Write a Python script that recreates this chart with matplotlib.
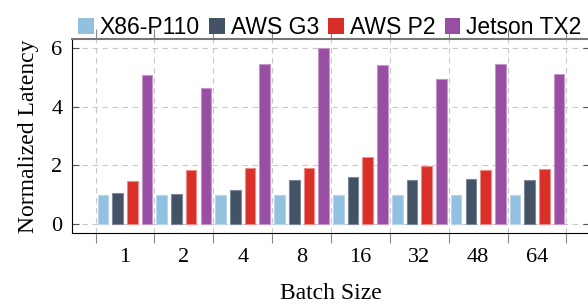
import numpy as np
import matplotlib.pyplot as plt
from matplotlib.ticker import FixedLocator

batch_sizes = ['1', '2', '4', '8', '16', '32', '48', '64']
platforms = ['X86-P110', 'AWS G3', 'AWS P2', 'Jetson TX2']
x86_p110 = [1.0, 1.0, 1.0, 1.0, 1.0, 1.0, 1.0, 1.0]
aws_g3 = [1.05, 1.03, 1.16, 1.52, 1.59, 1.52, 1.53, 1.52]
aws_p2 = [1.47, 1.85, 1.91, 1.92, 2.29, 1.99, 1.86, 1.89]
jetson_tx2 = [5.09, 4.65, 5.44, 6.01, 5.41, 4.95, 5.45, 5.11]

colors = ['#92c0df', '#445265', '#d83028', '#984ea3']
edges = ['#b9d7ec', '#7d8898', '#ee8a84', '#c595cc']
series = [x86_p110, aws_g3, aws_p2, jetson_tx2]

fig = plt.figure(figsize=(5.88, 3.06), dpi=100)
ax = fig.add_axes([72 / 588, 1 - 233 / 306, 518 / 588, 194 / 306])

x = np.arange(len(batch_sizes))
step = 0.25
width = 0.18
for i, (vals, name) in enumerate(zip(series, platforms)):
    ax.bar(x + (i - 1.5) * step, vals, width, color=colors[i],
           edgecolor=edges[i], linewidth=0.8, label=name, zorder=3)

ax.set_xlim(-0.9, 7.9)
ax.set_ylim(-0.3, 6.3)
ax.set_xticks(x)
ax.set_xticklabels(batch_sizes, family='Liberation Serif', fontsize=16)
ax.xaxis.set_minor_locator(FixedLocator(np.arange(-0.5, 8, 1.0)))
ax.tick_params(axis='x', which='major', length=0, pad=11)
ax.tick_params(axis='x', which='minor', direction='out', length=7.5,
               color='#888888', width=0.8, top=True, bottom=True)
ax.set_yticks([0, 2, 4, 6])
ax.set_yticklabels(['0', '2', '4', '6'], family='Liberation Serif', fontsize=16)
ax.tick_params(axis='y', direction='in', length=5, color='#555555',
               width=0.8, left=True, right=True, pad=7)

ax.grid(axis='y', which='major', color='#c8c8c8', linestyle=(0, (5, 4)), linewidth=0.8, zorder=0)
ax.grid(axis='x', which='minor', color='#c8c8c8', linestyle=(0, (5, 4)), linewidth=0.8, zorder=0)
ax.set_axisbelow(True)

ax.spines['left'].set_color('black')
ax.spines['bottom'].set_color('black')
ax.spines['top'].set_color('#777777')
ax.spines['top'].set_linewidth(1.5)
ax.spines['right'].set_visible(False)

ax.set_xlabel('Batch Size', family='Liberation Serif', fontsize=17, labelpad=11)
ax.set_ylabel('Normalized Latency', family='Liberation Serif', fontsize=17, labelpad=9)

leg = ax.legend(loc='lower left', bbox_to_anchor=(6 / 518, 1.0), ncol=4,
                frameon=False, prop={'family': 'Liberation Sans', 'size': 16.5},
                handlelength=0.68, handleheight=0.68, handletextpad=0.27,
                columnspacing=0.4, borderpad=0.0, borderaxespad=0.0)
for h in leg.legend_handles:
    h.set_edgecolor('none')

fig.savefig('out.png', dpi=100)
